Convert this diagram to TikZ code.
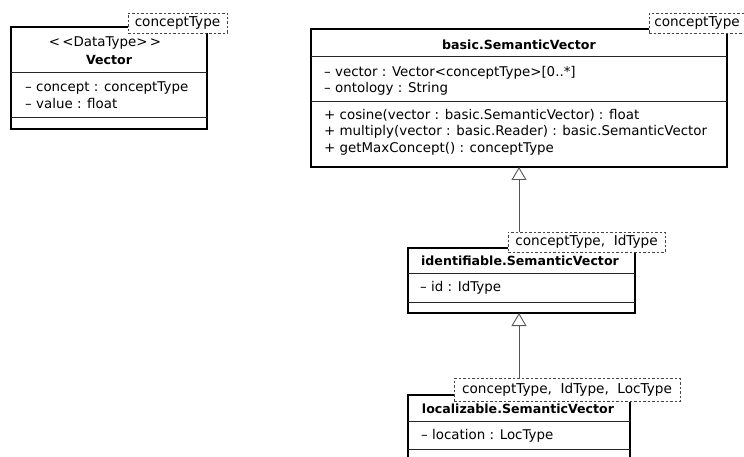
\documentclass[tikz,border=0pt]{standalone}
\usepackage{fontspec}
\setmainfont{DejaVu Sans}
\usetikzlibrary{arrows.meta,positioning,calc}
\definecolor{lineGray}{HTML}{555555}
\definecolor{tmplGray}{HTML}{444444}

\begin{document}
\begin{tikzpicture}[x=1pt,y=-1pt,
  classbox/.style={rectangle,draw=black,line width=1.6pt,fill=white,inner sep=0pt,outer sep=0pt},
  tmpl/.style={rectangle,draw=tmplGray,dash pattern=on 2.5pt off 2pt,line width=0.7pt,fill=white,inner sep=0pt,outer sep=0pt,minimum height=20pt,font=\fontsize{13.6}{15}\selectfont},
  hdr/.style={inner sep=0pt,font=\fontsize{12.6}{15}\selectfont\bfseries},
  stereo/.style={inner sep=0pt,font=\fontsize{13.4}{15}\selectfont},
  member/.style={anchor=west,inner sep=0pt,font=\fontsize{13.4}{15}\selectfont},
  sep/.style={line width=0.8pt,draw=black!85},
  gen/.style={-{Triangle[open,length=13pt,width=15pt,line width=0.9pt]},line width=0.9pt,draw=lineGray}
]
\useasboundingbox (0,0) rectangle (744,457);
\clip (0,0) rectangle (744,457);

% class boxes
\node[classbox,minimum width=196pt,minimum height=102pt] (vec) at (109,78) {};
\node[classbox,minimum width=416pt,minimum height=138pt] (basic) at (519,98) {};
\node[classbox,minimum width=227pt,minimum height=65pt] (ident) at (521.5,280.5) {};
\node[classbox,minimum width=222pt,minimum height=75pt] (loc) at (519,432.5) {};

% compartments
\draw[sep] (vec.west |- 0,72) -- (vec.east |- 0,72);
\draw[sep] (vec.west |- 0,117) -- (vec.east |- 0,117);
\draw[sep] (basic.west |- 0,56) -- (basic.east |- 0,56);
\draw[sep] (basic.west |- 0,101) -- (basic.east |- 0,101);
\draw[sep] (ident.west |- 0,273) -- (ident.east |- 0,273);
\draw[sep] (ident.west |- 0,302) -- (ident.east |- 0,302);
\draw[sep] (loc.west |- 0,421) -- (loc.east |- 0,421);
\draw[sep] (loc.west |- 0,449) -- (loc.east |- 0,449);

% Vector
\node[stereo] (vecSt) at (105,43) {<\,<DataType>\,>};
\node[hdr] (vecName) at (109,60) {Vector};
\node[member] (vecA1) at (25,88) {– concept : conceptType};
\node[member] (vecA2) at (25,104) {– value : float};

% basic.SemanticVector
\node[hdr] (basicName) at (519,45) {basic.SemanticVector};
\node[member] (basicA1) at (324,73) {– vector : Vector<conceptType>[0..*]};
\node[member] (basicA2) at (324,89) {– ontology : String};
\node[member] (basicO1) at (324,115) {+ cosine(vector : basic.SemanticVector) : float};
\node[member] (basicO2) at (324,132) {+ multiply(vector : basic.Reader) : basic.SemanticVector};
\node[member] (basicO3) at (324,149) {+ getMaxConcept() : conceptType};

% identifiable.SemanticVector
\node[hdr] (identName) at (520,261) {identifiable.SemanticVector};
\node[member] (identA1) at (420,288) {– id : IdType};

% localizable.SemanticVector
\node[hdr] (locName) at (518,409) {localizable.SemanticVector};
\node[member] (locA1) at (421,436) {– location : LocType};

% template parameters
\node[tmpl,minimum width=99pt] (vecT) at (177.5,23) {conceptType};
\node[tmpl,minimum width=96pt] (basicT) at (697,23) {conceptType};
\node[tmpl,minimum width=157pt] (identT) at (586.5,242) {conceptType,\ \ IdType};
\node[tmpl,minimum width=226pt,minimum height=23pt] (locT) at (567,390) {conceptType,\ \ IdType,\ \ LocType};

% generalisations
\draw[gen] (basic.south |- identT.north) -- (basic.south);
\draw[gen] (basic.south |- locT.north) -- (basic.south |- ident.south);
\end{tikzpicture}
\end{document}
